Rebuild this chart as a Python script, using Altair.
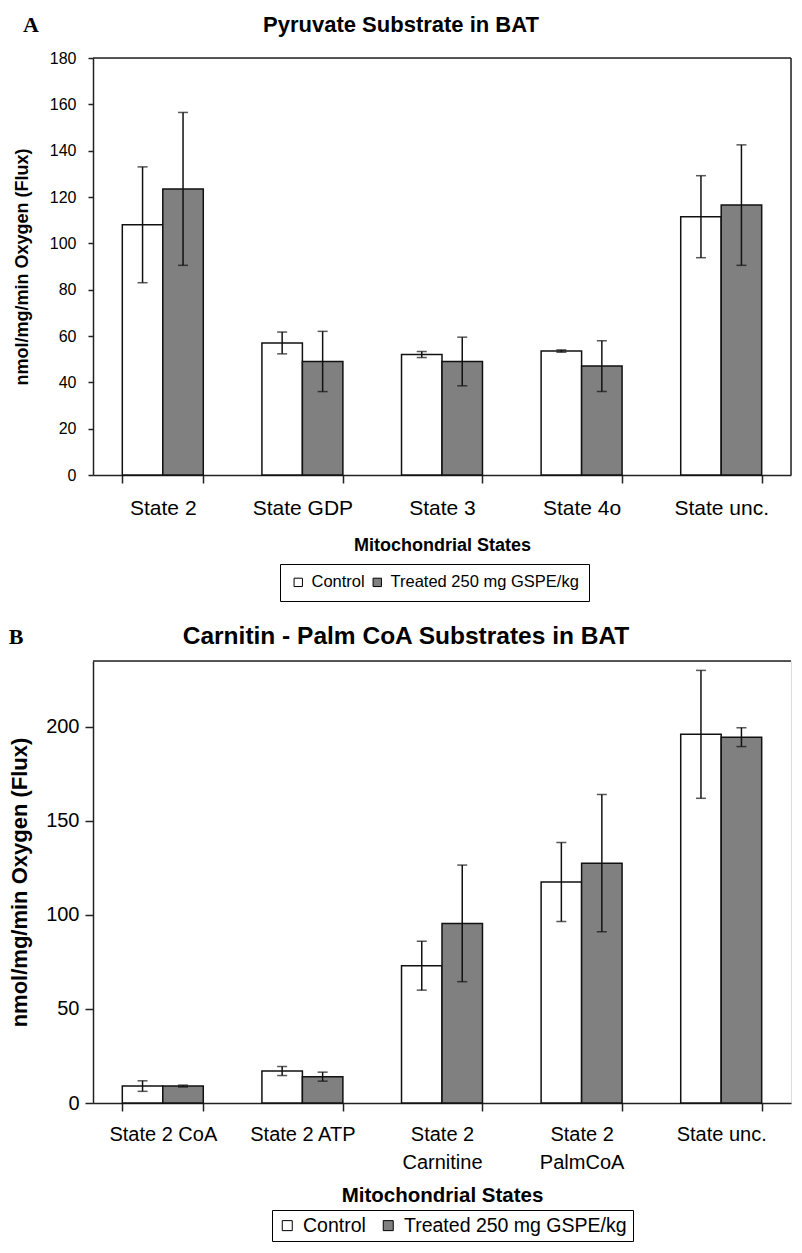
import altair as alt
import pandas as pd

# ---------------- data ----------------
groups = ["Control", "Treated 250 mg GSPE/kg"]

states_a = ["State 2", "State GDP", "State 3", "State 4o", "State unc."]
control_a = [108, 57, 52, 53.5, 111.5]
control_a_err = [25, 4.7, 1.3, 0.5, 17.7]
treated_a = [123.5, 49, 49, 47, 116.5]
treated_a_err = [33, 13, 10.5, 11, 26]

states_b = ["State 2 CoA", "State 2 ATP", "State 2\nCarnitine", "State 2\nPalmCoA", "State unc."]
control_b = [9, 17, 73, 117.5, 196]
control_b_err = [2.8, 2.4, 13, 21, 34]
treated_b = [9, 14, 95.5, 127.5, 194.5]
treated_b_err = [0.5, 2.4, 31, 36.5, 5]

title_a = "Pyruvate Substrate in BAT"
title_b = "Carnitin - Palm CoA Substrates in BAT"
y_title = "nmol/mg/min Oxygen (Flux)"
x_title = "Mitochondrial States"


def long_df(states, c, ce, t, te):
    rows = []
    for i, s in enumerate(states):
        rows.append({"state": s, "group": groups[0], "value": c[i], "err": ce[i]})
        rows.append({"state": s, "group": groups[1], "value": t[i], "err": te[i]})
    df = pd.DataFrame(rows)
    df["lo"] = df["value"] - df["err"]
    df["hi"] = df["value"] + df["err"]
    return df


df_a = long_df(states_a, control_a, control_a_err, treated_a, treated_a_err)
df_b = long_df(states_b, control_b, control_b_err, treated_b, treated_b_err)

FONT = "Liberation Sans"


def panel(df, states, width, height, ydom, yvals, letter, title, title_x, title_y,
          letter_x, title_size, tick_fs, ytick, ylabpad, ytitle_fs, ytitlepad,
          xlab_fs, xlabpad, xtitle_fs, xtitlepad, leg_x, leg_y, leg_fs, leg_pad,
          leg_sym, leg_colpad, leg_off, right_border):
    xscale = alt.Scale(paddingInner=0.42, paddingOuter=0.21)
    xaxis = alt.Axis(title=x_title, labelAngle=0, tickBand="extent", tickSize=8,
                     labelFontSize=xlab_fs, labelPadding=xlabpad, labelFont=FONT,
                     labelColor="black", labelLineHeight=28, labelOverlap=False,
                     labelExpr="split(datum.label, '\\n')",
                     titleFontSize=xtitle_fs, titleFont=FONT, titleFontWeight="bold",
                     titleColor="black", titlePadding=xtitlepad,
                     domainColor="#222", domainWidth=1.5, tickColor="#222", tickWidth=1.5)
    yaxis = alt.Axis(title=y_title, values=yvals, grid=False, tickSize=ytick,
                     labelFontSize=tick_fs, labelPadding=ylabpad, labelFont=FONT,
                     labelColor="black", titleFontSize=ytitle_fs, titleFont=FONT,
                     titleFontWeight="bold", titleColor="black", titlePadding=ytitlepad,
                     domainColor="#222", domainWidth=1.5, tickColor="#222", tickWidth=1.5)
    x = alt.X("state:N", sort=states, scale=xscale, axis=xaxis)
    xo = alt.XOffset("group:N", sort=groups, scale=alt.Scale(paddingInner=0, paddingOuter=0))
    yscale = alt.Scale(domain=ydom, nice=False, zero=True)

    base = alt.Chart(df)
    bars = base.mark_bar(stroke="#111", strokeWidth=1.5).encode(
        x=x, xOffset=xo,
        y=alt.Y("value:Q", scale=yscale, axis=yaxis),
        color=alt.Color("group:N", sort=groups,
                        scale=alt.Scale(domain=groups, range=["white", "#808080"]),
                        legend=alt.Legend(title=None, orient="none", legendX=leg_x,
                                          legendY=leg_y, direction="horizontal",
                                          strokeColor="black", fillColor="white",
                                          padding=leg_pad, symbolType="square",
                                          symbolSize=leg_sym, symbolStrokeColor="black",
                                          symbolStrokeWidth=1, symbolOpacity=1,
                                          labelFontSize=leg_fs, labelFont=FONT,
                                          labelColor="black", columnPadding=leg_colpad,
                                          labelOffset=leg_off, labelLimit=600)),
    )
    rules = base.mark_rule(color="#111", strokeWidth=1.5).encode(
        x=x, xOffset=xo,
        y=alt.Y("lo:Q", scale=yscale, axis=yaxis),
        y2="hi:Q",
    )
    caps_hi = base.mark_tick(color="#111", size=10, thickness=1.5).encode(
        x=x, xOffset=xo, y=alt.Y("hi:Q", scale=yscale, axis=yaxis))
    caps_lo = base.mark_tick(color="#111", size=10, thickness=1.5).encode(
        x=x, xOffset=xo, y=alt.Y("lo:Q", scale=yscale, axis=yaxis))

    one = pd.DataFrame({"t": [title]})
    ttl = alt.Chart(one).mark_text(font=FONT, fontWeight="bold", fontSize=title_size,
                                   align="center", baseline="middle", color="black").encode(
        text="t:N", x=alt.value(title_x), y=alt.value(title_y))
    lt = alt.Chart(pd.DataFrame({"t": [letter]})).mark_text(
        font="Liberation Serif", fontWeight="bold", fontSize=22, align="center",
        baseline="middle", color="black").encode(
        text="t:N", x=alt.value(letter_x), y=alt.value(title_y))

    dummy = pd.DataFrame({"d": [0]})
    top = alt.Chart(dummy).mark_rule(color="#222", strokeWidth=1.5).encode(
        x=alt.value(0), x2=alt.value(width), y=alt.value(0))
    layers = [bars, rules, caps_hi, caps_lo, top, ttl, lt]
    if right_border:
        right = alt.Chart(dummy).mark_rule(color="#222", strokeWidth=1.5).encode(
            x=alt.value(width), y=alt.value(0), y2=alt.value(height))
        layers.append(right)
    return alt.layer(*layers).properties(width=width, height=height)


pa = panel(df_a, states_a, 698, 417, [0, 180], list(range(0, 181, 20)), "A", title_a,
           308, -33, -62, 22, 16, 5, 12, 18, 18,
           21, 14, 18, 18, 187, 506, 16.5, 10, 70, 4, 5, True)
pb = panel(df_b, states_b, 698, 442, [0, 235], [0, 50, 100, 150, 200], "B", title_b,
           313, -24, -77, 24.5, 20, 8, 6, 22, 14,
           20, 13, 20.5, 13, 179, 549, 19.5, 5.5, 100, 12, 6, False)

chart = alt.vconcat(pa, pb, spacing=21).resolve_scale(
    color="independent", x="independent", y="independent"
).resolve_legend(color="independent").properties(
    padding={"top": 5, "left": 0, "right": 0, "bottom": 0}
).configure_view(stroke=None).configure(font=FONT)

chart.save("out.html", embed_options={"renderer": "svg", "actions": False})
